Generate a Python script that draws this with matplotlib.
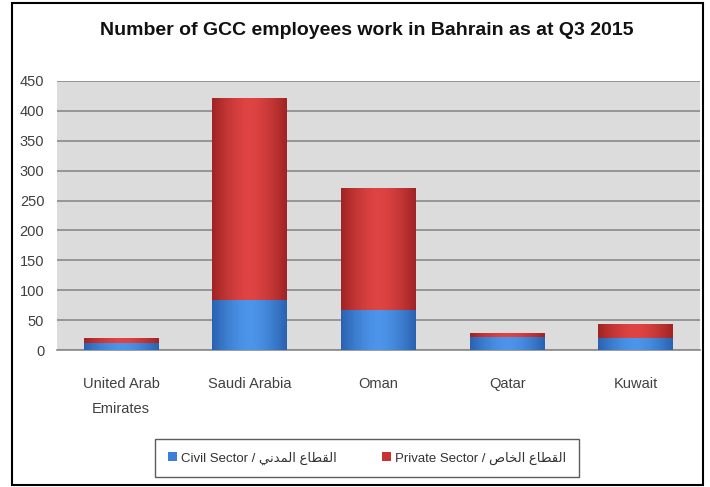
import numpy as np
import matplotlib.pyplot as plt
from matplotlib.patches import Rectangle
from matplotlib.colors import LinearSegmentedColormap

countries = ["United Arab\nEmirates", "Saudi Arabia", "Oman", "Qatar", "Kuwait"]
civil = [12, 84, 67, 22, 21]
private = [9, 337, 204, 6, 22]
yticks = [0, 50, 100, 150, 200, 250, 300, 350, 400, 450]


# minimal Arabic shaping: (isolated, final, initial, medial)
FORMS = {
    "ا": ("\uFE8D", "\uFE8E", None, None),
    "د": ("\uFEA9", "\uFEAA", None, None),
    "ل": ("\uFEDD", "\uFEDE", "\uFEDF", "\uFEE0"),
    "ق": ("\uFED5", "\uFED6", "\uFED7", "\uFED8"),
    "ط": ("\uFEC1", "\uFEC2", "\uFEC3", "\uFEC4"),
    "ع": ("\uFEC9", "\uFECA", "\uFECB", "\uFECC"),
    "م": ("\uFEE1", "\uFEE2", "\uFEE3", "\uFEE4"),
    "ن": ("\uFEE5", "\uFEE6", "\uFEE7", "\uFEE8"),
    "ي": ("\uFEF1", "\uFEF2", "\uFEF3", "\uFEF4"),
    "خ": ("\uFEA5", "\uFEA6", "\uFEA7", "\uFEA8"),
    "ص": ("\uFEB9", "\uFEBA", "\uFEBB", "\uFEBC"),
}


def shape_ar(text):
    out = []
    for i, ch in enumerate(text):
        if ch not in FORMS:
            out.append(ch)
            continue
        prev = text[i - 1] if i > 0 else None
        nxt = text[i + 1] if i + 1 < len(text) else None
        jp = prev in FORMS and FORMS[prev][2] is not None
        jn = nxt in FORMS and FORMS[ch][2] is not None
        iso, fin, ini, med = FORMS[ch]
        if jp and jn:
            out.append(med)
        elif jp:
            out.append(fin)
        elif jn:
            out.append(ini)
        else:
            out.append(iso)
    return "".join(reversed(out))


civil_label = "Civil Sector / " + shape_ar("القطاع المدني")
private_label = "Private Sector / " + shape_ar("القطاع الخاص")

plt.rcParams["font.family"] = ["Liberation Sans", "DejaVu Sans"]

fig = plt.figure(figsize=(7.1, 4.87), dpi=100)
ax = fig.add_axes([0.080, 0.281, 0.906, 0.553])

x = np.arange(len(countries))
w = 0.58
b1 = ax.bar(x, civil, w, color="#3b7fd6", zorder=3)
b2 = ax.bar(x, private, w, bottom=civil, color="#c93232", zorder=3)

# cylinder-like shading across each bar
grad = np.abs(np.linspace(-1, 1, 64)) ** 1.6
grad = grad[np.newaxis, :]
cm_blue = LinearSegmentedColormap.from_list("b", ["#4d95ea", "#2a62b0"])
cm_red = LinearSegmentedColormap.from_list("r", ["#df4443", "#a02424"])
for bars, cm in [(b1, cm_blue), (b2, cm_red)]:
    for p in bars:
        x0, y0 = p.get_x(), p.get_y()
        im = ax.imshow(grad, cmap=cm, aspect="auto", zorder=4,
                       extent=[x0, x0 + p.get_width(), y0, y0 + p.get_height()])
        im.set_clip_path(p)

ax.set_facecolor("#dcdcdc")
ax.set_ylim(0, 450)
ax.set_xlim(-0.5, len(countries) - 0.5)
ax.set_yticks(yticks)
ax.yaxis.grid(True, color="#8a8a8a", linewidth=1.2, zorder=1)
ax.set_xticks(x)
ax.set_xticklabels(countries, fontsize=10.5, color="#404040", linespacing=2.0)
ax.tick_params(axis="y", labelsize=10.5, labelcolor="#404040", length=0, pad=9)
ax.tick_params(axis="x", length=0, pad=19)
for s in ["top", "right", "left"]:
    ax.spines[s].set_visible(False)
ax.spines["bottom"].set_color("#8a8a8a")
ax.spines["bottom"].set_linewidth(1.2)

fig.text(0.516, 0.937, "Number of GCC employees work in Bahrain as at Q3 2015",
         ha="center", va="center", fontsize=14, fontweight="bold", color="#111111")

leg = fig.legend([b1, b2], [civil_label, private_label], loc="center",
                 bbox_to_anchor=(0.517, 0.0595), ncol=2, fontsize=9.5,
                 frameon=True, fancybox=False, edgecolor="#333333",
                 handlelength=0.7, handleheight=0.7, handletextpad=0.3,
                 columnspacing=3.4, borderpad=0.95, borderaxespad=0)
leg.get_frame().set_linewidth(1.0)
for t in leg.get_texts():
    t.set_color("#333333")

fig.add_artist(Rectangle((0.017, 0.004), 0.973, 0.99, transform=fig.transFigure,
                         fill=False, edgecolor="black", linewidth=1.5))

fig.savefig("out.png", dpi=100)
